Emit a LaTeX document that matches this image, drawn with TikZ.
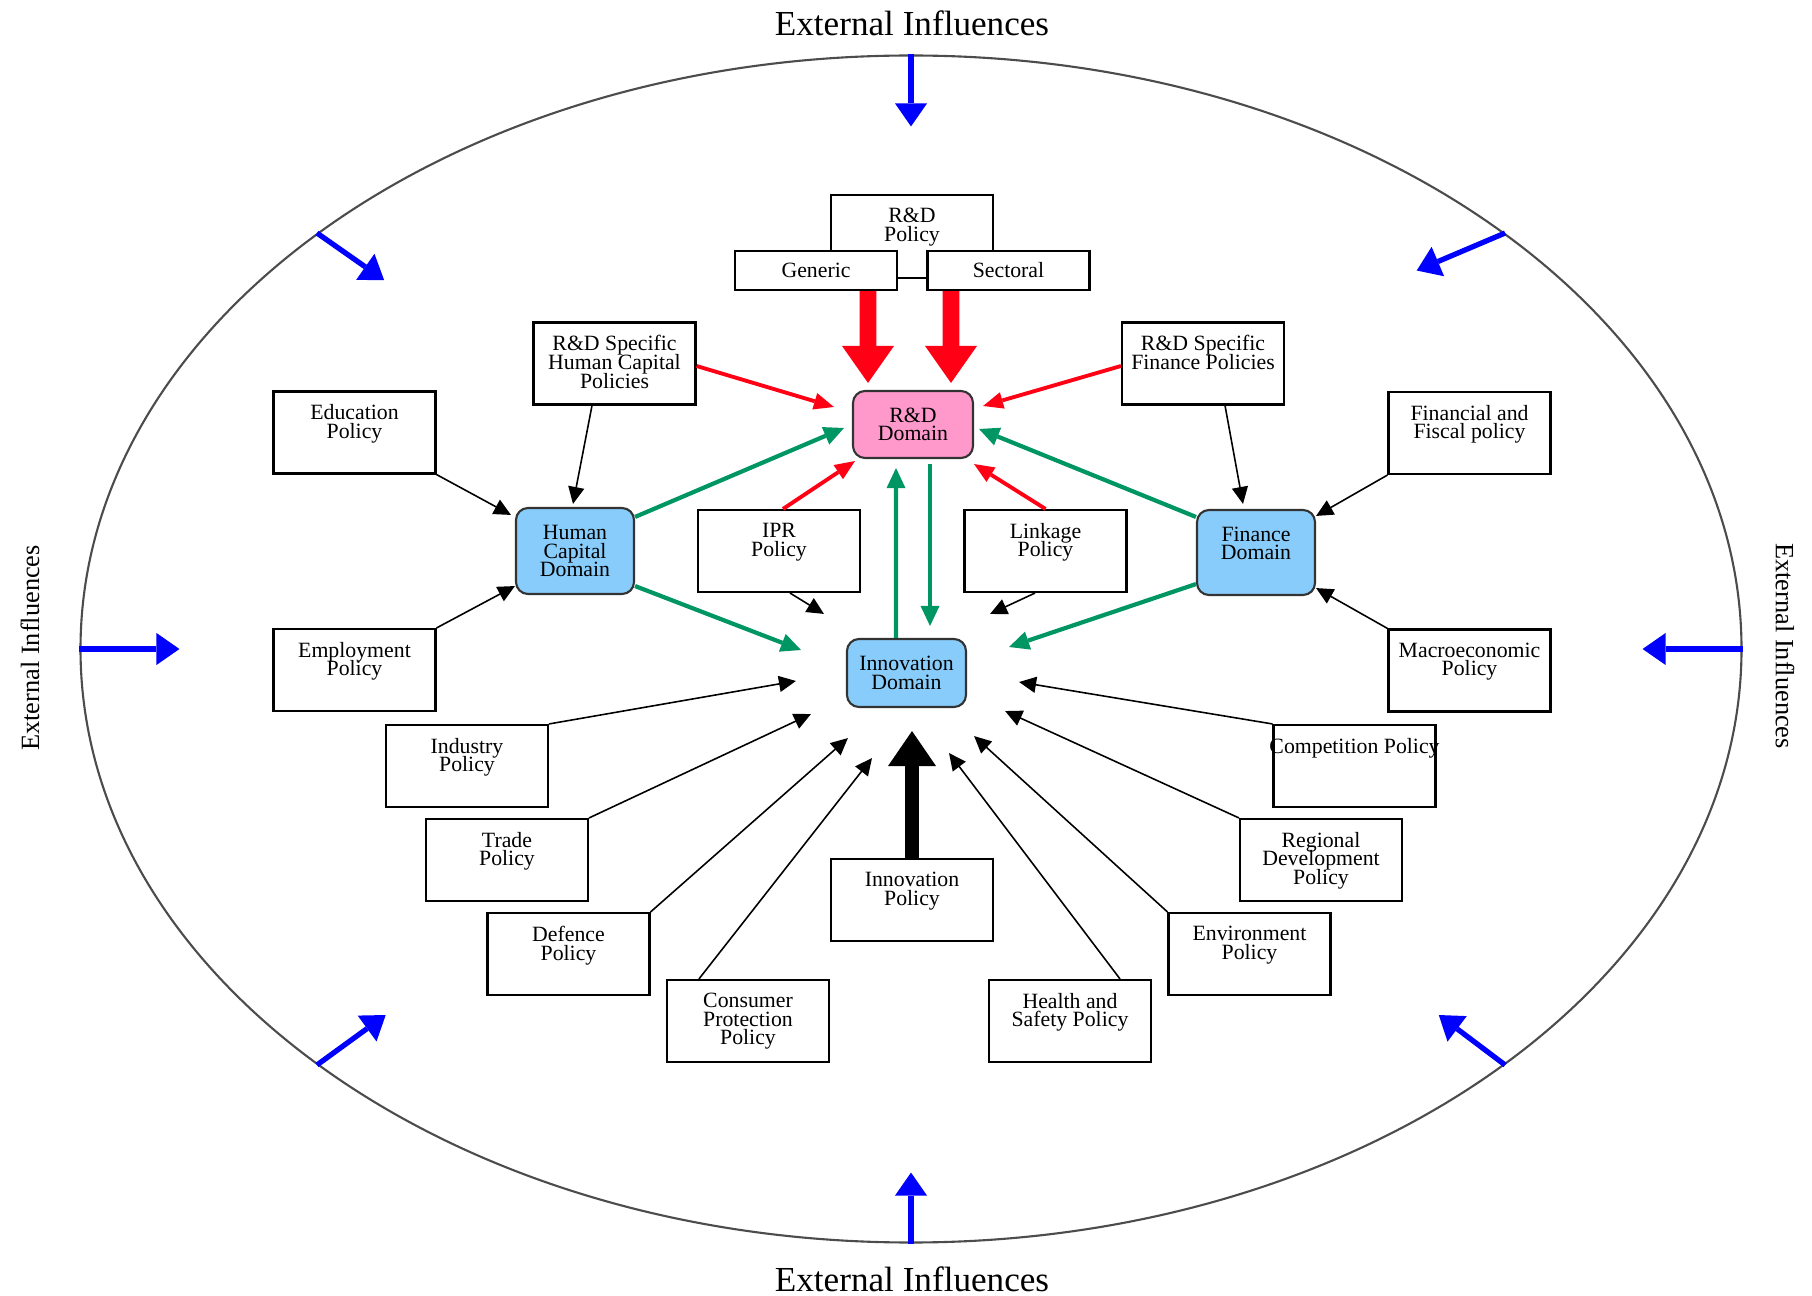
\documentclass[tikz,border=0pt]{standalone}
\usepackage{fontspec}
\setmainfont{Liberation Serif}
\usetikzlibrary{shapes.geometric,arrows.meta,calc}
\definecolor{rdpink}{RGB}{255,153,204}
\definecolor{domblue}{RGB}{135,204,250}
\definecolor{arrgreen}{RGB}{0,150,100}
\definecolor{arrred}{RGB}{255,0,20}
\definecolor{extblue}{RGB}{0,0,255}
\newcommand{\boxfont}{\fontsize{6.2}{5.3}\selectfont\lineskiplimit=-10pt}
\tikzstyle{policy} = [draw, fill=white, line width=0.6pt, minimum width=16.2mm,
    minimum height=8.2mm, inner sep=0pt]
\tikzstyle{ptext} = [anchor=north, align=center, font=\boxfont, inner sep=0.9mm,
    yshift=-0.45mm]
\tikzstyle{dombox} = [draw=black!80, line width=0.6pt, rounded corners=1.2mm,
    align=center, font=\boxfont, inner sep=0pt]
\tikzstyle{feed} = [draw, line width=0.45pt, -{Triangle[width=1.6mm,length=1.7mm]}]
\tikzstyle{redfeed} = [draw=arrred, line width=1.1pt,
    -{Triangle[width=1.7mm,length=2mm,line width=0pt]}]
\tikzstyle{greenlink} = [draw=arrgreen, line width=1.2pt,
    -{Triangle[width=1.9mm,length=2mm,line width=0pt]}]
\tikzstyle{bigred} = [draw=arrred, line width=4.8pt,
    -{Triangle[width=5.2mm,length=3.7mm,line width=0pt]}]
\tikzstyle{bigblack} = [draw, line width=4pt,
    -{Triangle[width=4.8mm,length=3.5mm,line width=0pt]}]
\tikzstyle{extarrow} = [draw=extblue, line width=1.5pt,
    -{Triangle[width=3.2mm,length=2.3mm,line width=0pt]}]
\tikzstyle{extlabel} = [font=\fontsize{10}{12}\selectfont]
\tikzstyle{sidelabel} = [font=\fontsize{7.5}{9}\selectfont]

\begin{document}
\begin{tikzpicture}[x=0.1mm, y=-0.1mm]
    \useasboundingbox (0,0) rectangle (1812,1296);
    % Outer ring
    \node [draw=black!70, line width=0.6pt, ellipse, minimum width=166.1mm,
        minimum height=118.7mm, inner sep=0pt] (world) at (911,649) {};
    \node [extlabel] (ext-top) at (912,23) {External Influences};
    \node [extlabel] (ext-bot) at (912,1279) {External Influences};
    \node [sidelabel, rotate=90] (ext-left) at (30,648) {External Influences};
    \node [sidelabel, rotate=-90] (ext-right) at (1785,646) {External Influences};
    \foreach \ang/\dir/\len in {90/270/7.2mm, 270/90/7.1mm, 0/180/10mm, 180/0/10mm,
                                35/203/9.6mm, 145/325/8.2mm, 215/36/8.5mm, 325/143/8.3mm}
        \path [extarrow] (world.\ang) -- ($(world.\ang)+(\dir:\len)$);
    % Nodes
    \node [policy, minimum height=8.3mm, label={[ptext]north:R\&D\\Policy}] (rdpol) at (912,236.5) {};
    \node [policy, minimum height=3.9mm, font=\boxfont] (gen) at (816,270.5) {Generic};
    \node [policy, minimum height=3.9mm, font=\boxfont] (sec) at (1008.5,270.5) {Sectoral};
    \node [policy, label={[ptext]north:R\&D Specific\\Human Capital\\Policies}] (hcpol) at (614.5,363.5) {};
    \node [policy, label={[ptext]north:R\&D Specific\\Finance Policies}] (finpol) at (1203,363.5) {};
    \node [policy, label={[ptext]north:Education\\Policy}] (edu) at (354.5,432.5) {};
    \node [policy, label={[ptext]north:Employment\\Policy}] (emp) at (354.5,670) {};
    \node [policy, label={[ptext]north:Financial and\\Fiscal policy}] (ffp) at (1469.5,433) {};
    \node [policy, label={[ptext]north:Macroeconomic\\Policy}] (macro) at (1469.5,670.5) {};
    \node [policy, label={[ptext]north:IPR\\Policy}] (ipr) at (779,551) {};
    \node [policy, label={[ptext]north:Linkage\\Policy}] (link) at (1045.5,551) {};
    \node [policy, label={[ptext]north:Industry\\Policy}] (ind) at (467,766) {};
    \node [policy, label={[ptext]north:Trade\\Policy}] (trade) at (507,860) {};
    \node [policy, label={[ptext]north:Defence\\Policy}] (def) at (568.5,954) {};
    \node [policy, label={[ptext]north:Consumer\\Protection\\Policy}] (cons) at (748,1021) {};
    \node [policy, label={[ptext]north:Innovation\\Policy}] (innpol) at (912,900) {};
    \node [policy, label={[ptext]north:Health and\\Safety Policy}] (health) at (1070,1021) {};
    \node [policy, label={[ptext]north:Environment\\Policy}] (env) at (1249.5,954) {};
    \node [policy, label={[ptext]north:Regional\\Development\\Policy}] (reg) at (1321,860) {};
    \node [policy, label={[ptext]north:Competition Policy}] (comp) at (1354.5,766) {};
    \node [dombox, fill=rdpink, minimum width=12mm, minimum height=6.7mm] (rd) at (913,424.5) {R\&D\\Domain};
    \node [dombox, fill=domblue, minimum width=11.8mm, minimum height=8.6mm] (hc) at (575,551) {Human\\Capital\\Domain};
    \node [dombox, fill=domblue, minimum width=11.8mm, minimum height=8.5mm] (fin) at (1256,552.5) {Finance\\Domain\\~};
    \node [dombox, fill=domblue, minimum width=11.9mm, minimum height=6.8mm] (inn) at (906.5,673) {Innovation\\Domain};
    % Paths
    \path [bigred] ([xshift=5.2mm]gen.south) -- ([xshift=-4.5mm,yshift=0.7mm]rd.north);
    \path [bigred] ([xshift=-5.75mm]sec.south) -- ([xshift=3.8mm,yshift=0.7mm]rd.north);
    \path [redfeed] ([yshift=-0.25mm]hcpol.east) -- ([xshift=-1.8mm,yshift=1.75mm]rd.west);
    \path [redfeed] ([yshift=-0.25mm]finpol.west) -- ([xshift=0.9mm,yshift=1.85mm]rd.east);
    \path [redfeed] ([xshift=0.4mm]ipr.north) -- ([xshift=0.3mm,yshift=-0.2mm]rd.south west);
    \path [redfeed] (link.north) -- ([yshift=-0.5mm]rd.south east);
    \path [greenlink] ([yshift=-1mm]hc.north east) -- ([xshift=-0.8mm,yshift=-0.35mm]rd.west);
    \path [greenlink] ([yshift=0.9mm]hc.south east) -- ([xshift=-4.5mm,yshift=2.3mm]inn.west);
    \path [greenlink] ([yshift=-0.8mm]fin.north west) -- ([xshift=0.5mm,yshift=-0.45mm]rd.east);
    \path [greenlink] ([yshift=1.2mm]fin.south west) -- ([xshift=4.2mm,yshift=2.6mm]inn.east);
    \path [greenlink] ([xshift=-1.05mm]inn.north) -- ([xshift=-1.7mm,yshift=-0.9mm]rd.south);
    \path [greenlink] ([xshift=1.7mm,yshift=-0.5mm]rd.south) -- ([xshift=2.35mm,yshift=1.2mm]inn.north);
    \path [feed] ([xshift=1.1mm]ipr.south) -- ([xshift=-2.2mm,yshift=2.4mm]inn.north west);
    \path [feed] ([xshift=-1.05mm]link.south) -- ([xshift=2.3mm,yshift=2.4mm]inn.north east);
    \path [feed] ([xshift=-2.25mm]hcpol.south) -- ([xshift=-0.2mm,yshift=0.3mm]hc.north);
    \path [feed] ([xshift=2.2mm]finpol.south) -- ([xshift=-1.3mm,yshift=0.5mm]fin.north);
    \path [feed] (edu.south east) -- ([xshift=-0.4mm,yshift=-0.8mm]hc.north west);
    \path [feed] (emp.north east) -- ([yshift=0.9mm]hc.south west);
    \path [feed] (ffp.south west) -- ([yshift=-0.7mm]fin.north east);
    \path [feed] (macro.north west) -- ([yshift=0.8mm]fin.south east);
    \path [feed] (ind.north east) -- ([xshift=-5mm,yshift=-0.8mm]inn.west);
    \path [feed] (trade.north east) -- ([xshift=-3.5mm,yshift=-0.6mm]inn.south west);
    \path [feed] (def.north east) -- ([xshift=0.2mm,yshift=-3mm]inn.south west);
    \path [feed] ([xshift=3.3mm]cons.north west) -- ([xshift=-3.45mm,yshift=-5mm]inn.south);
    \path [bigblack] (innpol.north) -- ([yshift=-2.3mm]inn.south -| innpol.north);
    \path [feed] ([xshift=5mm]health.north) -- ([xshift=4.25mm,yshift=-4.5mm]inn.south);
    \path [feed] (env.north west) -- ([xshift=0.7mm,yshift=-2.8mm]inn.south east);
    \path [feed] (reg.north west) -- ([xshift=3.8mm,yshift=-0.3mm]inn.south east);
    \path [feed] (comp.north west) -- ([xshift=5.2mm,yshift=-0.9mm]inn.east);
\end{tikzpicture}
\end{document}
